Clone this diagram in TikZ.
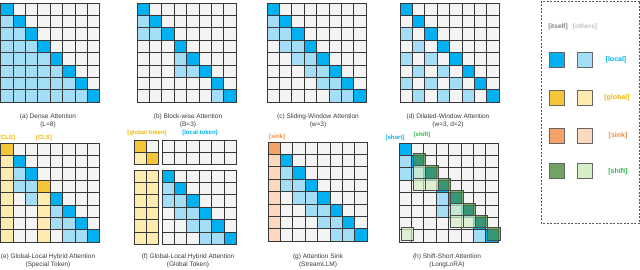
\documentclass[tikz,border=0pt]{standalone}
\usepackage{fontspec}
\setmainfont{Liberation Sans}
\usepackage{tikz}
\definecolor{cellbg}{HTML}{F4F4F4}
\definecolor{bluedk}{HTML}{00B0F0}
\definecolor{bluelt}{HTML}{A3DEF6}
\definecolor{yeldk}{HTML}{F5C53A}
\definecolor{yellt}{HTML}{FDEBB0}
\definecolor{orgdk}{HTML}{F2A365}
\definecolor{orglt}{HTML}{FBD8BE}
\definecolor{grndk}{HTML}{4F8C3E}
\definecolor{grnlt}{HTML}{D6EEC6}
\definecolor{captxt}{HTML}{3A3A3A}
\definecolor{globtxt}{HTML}{F5B800}
\definecolor{sinktxt}{HTML}{F08C3C}
\definecolor{shifttxt}{HTML}{2DB84B}
\tikzset{cell/.style={draw=black!78, line width=0.75pt, fill=#1}, cell/.default=cellbg}
\tikzset{shcell/.style={draw=black!70, line width=0.75pt, fill=#1, fill opacity=0.7, xshift=2pt, yshift=2pt}}
\tikzset{captext/.style={align=center, text=captxt, font=\fontsize{6.5}{8.5}\selectfont}}
\tikzset{tagtext/.style={text=#1, font=\bfseries\fontsize{6}{7}\selectfont, inner sep=0pt}}
\tikzset{legsq/.style={draw=black!60, line width=0.7pt, fill=#1, minimum size=15pt, inner sep=0pt}}
\newcommand{\cellsz}{12.4}
\newcommand{\attngrid}[4]{\foreach \r in {1,...,#3}{\foreach \c in {1,...,#4}{\draw[cell] ({#1+(\c-1)*\cellsz},{#2+(\r-1)*\cellsz}) rectangle ++(\cellsz,\cellsz);}}}
\newcommand{\tok}[5]{\draw[cell=#5] ({#1+#4*\cellsz},{#2+#3*\cellsz}) rectangle ++(\cellsz,\cellsz);}
\newcommand{\shtok}[5]{\draw[shcell=#5] ({#1+#4*\cellsz},{#2+#3*\cellsz}) rectangle ++(\cellsz,\cellsz);}

\begin{document}
\begin{tikzpicture}[x=1pt, y=-1pt]
\useasboundingbox (0,0) rectangle (640,270);
\attngrid{0.5}{3}{8}{8}
\foreach \r/\c in {1/0,2/0,2/1,3/0,3/1,3/2,4/0,4/1,4/2,4/3,5/0,5/1,5/2,5/3,5/4,6/0,6/1,6/2,6/3,6/4,6/5,7/0,7/1,7/2,7/3,7/4,7/5,7/6}{\tok{0.5}{3}{\r}{\c}{bluelt}}
\foreach \i in {0,...,7}{\tok{0.5}{3}{\i}{\i}{bluedk}}
\node[captext] (capa) at (48,121) {(a) Dense Attention\\(L=8)};
\attngrid{137}{3}{8}{8}
\foreach \r/\c in {1/0,2/0,2/1,4/3,5/3,5/4,7/6}{\tok{137}{3}{\r}{\c}{bluelt}}
\foreach \i in {0,...,7}{\tok{137}{3}{\i}{\i}{bluedk}}
\node[captext] (capb) at (188,121) {(b) Block-wise Attention\\(B=3)};
\attngrid{267}{3}{8}{8}
\foreach \r/\c in {1/0,2/0,2/1,3/1,3/2,4/2,4/3,5/3,5/4,6/4,6/5,7/5,7/6}{\tok{267}{3}{\r}{\c}{bluelt}}
\foreach \i in {0,...,7}{\tok{267}{3}{\i}{\i}{bluedk}}
\node[captext] (capc) at (318,121) {(c) Sliding-Window Attention\\(w=3)};
\attngrid{400}{3}{8}{8}
\foreach \r/\c in {2/0,3/1,4/0,4/2,5/1,5/3,6/0,6/2,6/4,7/1,7/3,7/5}{\tok{400}{3}{\r}{\c}{bluelt}}
\foreach \i in {0,...,7}{\tok{400}{3}{\i}{\i}{bluedk}}
\node[captext] (capd) at (448,121) {(d) Dilated-Window Attention\\(w=3, d=2)};
\attngrid{0.5}{143}{8}{8}
\foreach \r/\c in {1/0,2/0,3/0,4/0,5/0,6/0,7/0,4/3,5/3,6/3,7/3}{\tok{0.5}{143}{\r}{\c}{yellt}}
\foreach \r/\c in {2/1,3/1,3/2,4/2,5/4,6/4,6/5,7/5,7/6}{\tok{0.5}{143}{\r}{\c}{bluelt}}
\foreach \i in {1,2,4,5,6,7}{\tok{0.5}{143}{\i}{\i}{bluedk}}
\foreach \i in {0,3}{\tok{0.5}{143}{\i}{\i}{yeldk}}
\node[tagtext=globtxt] (cls1) at (7,138) {[CLS]};
\node[tagtext=globtxt] (cls2) at (44,138) {[CLS]};
\node[captext] (cape) at (48,261) {(e) Global-Local Hybrid Attention\\(Special Token)};
\attngrid{134}{140}{2}{2}
\attngrid{162}{140}{2}{6}
\attngrid{134}{170}{6}{2}
\attngrid{162}{170}{6}{6}
\tok{134}{140}{0}{0}{yeldk}
\tok{134}{140}{1}{0}{yellt}
\tok{134}{140}{1}{1}{yeldk}
\foreach \r in {0,...,5}{\foreach \c in {0,1}{\tok{134}{170}{\r}{\c}{yellt}}}
\foreach \r/\c in {1/0,2/0,2/1,3/1,3/2,4/2,4/3,5/3,5/4}{\tok{162}{170}{\r}{\c}{bluelt}}
\foreach \i in {0,...,5}{\tok{162}{170}{\i}{\i}{bluedk}}
\node[tagtext=globtxt] (globtok) at (147,133) {[global token]};
\node[tagtext=bluedk] (loctok) at (200,133) {[local token]};
\node[captext] (capf) at (188,261) {(f) Global-Local Hybrid Attention\\(Global Token)};
\attngrid{268}{142}{8}{8}
\foreach \r in {1,...,7}{\tok{268}{142}{\r}{0}{orglt}}
\tok{268}{142}{0}{0}{orgdk}
\foreach \r/\c in {2/1,3/1,3/2,4/2,4/3,5/3,5/4,6/4,6/5,7/5,7/6}{\tok{268}{142}{\r}{\c}{bluelt}}
\foreach \i in {1,...,7}{\tok{268}{142}{\i}{\i}{bluedk}}
\node[tagtext=sinktxt] (sinktag) at (277,137) {[sink]};
\node[captext] (capg) at (318,261) {(g) Attention Sink\\(StreamLLM)};
\attngrid{399}{143}{8}{8}
\foreach \r/\c in {1/0,2/0,2/1,4/3,5/3,5/4,7/6}{\tok{399}{143}{\r}{\c}{bluelt}}
\foreach \i in {0,...,7}{\tok{399}{143}{\i}{\i}{bluedk}}
\foreach \r/\c in {2/1,3/1,3/2,5/4,6/4,6/5,7/0}{\shtok{399}{143}{\r}{\c}{grnlt}}
\foreach \i in {1,...,7}{\shtok{399}{143}{\i}{\i}{grndk}}
\node[tagtext=bluedk] (shorttag) at (395,138) {[short]};
\node[tagtext=shifttxt] (shifttag) at (422,135) {[shift]};
\node[captext] (caph) at (447,261) {(h) Shift-Short Attention\\(LongLoRA)};
\draw[black!65, line width=0.6pt, dash pattern=on 2pt off 1.5pt] (541,1) rectangle (639.5,223);
\node[tagtext=black!50, font=\bfseries\fontsize{6.5}{7}\selectfont] (lgself) at (558,27) {[itself]};
\node[tagtext=black!25, font=\bfseries\fontsize{6.5}{7}\selectfont] (lgothers) at (585,27) {[others]};
\node[legsq=bluedk] (lglocdk) at (557,60) {};
\node[legsq=bluelt] (lgloclt) at (584.5,60) {};
\node[tagtext=bluedk, font=\bfseries\fontsize{7}{8}\selectfont] (lgloc) at (616,60) {[local]};
\node[legsq=yeldk] (lgglobdk) at (557,98) {};
\node[legsq=yellt] (lggloblt) at (584.5,98) {};
\node[tagtext=globtxt, font=\bfseries\fontsize{7}{8}\selectfont] (lgglob) at (617,98) {[global]};
\node[legsq=orgdk] (lgsinkdk) at (557,135.5) {};
\node[legsq=orglt] (lgsinklt) at (584.5,135.5) {};
\node[tagtext=sinktxt, font=\bfseries\fontsize{7}{8}\selectfont] (lgsink) at (618,135.5) {[sink]};
\node[legsq=grndk!80!white] (lgshiftdk) at (557,171) {};
\node[legsq=grnlt] (lgshiftlt) at (584.5,171) {};
\node[tagtext=shifttxt, font=\bfseries\fontsize{7}{8}\selectfont] (lgshift) at (618,172) {[shift]};
\end{tikzpicture}
\end{document}
